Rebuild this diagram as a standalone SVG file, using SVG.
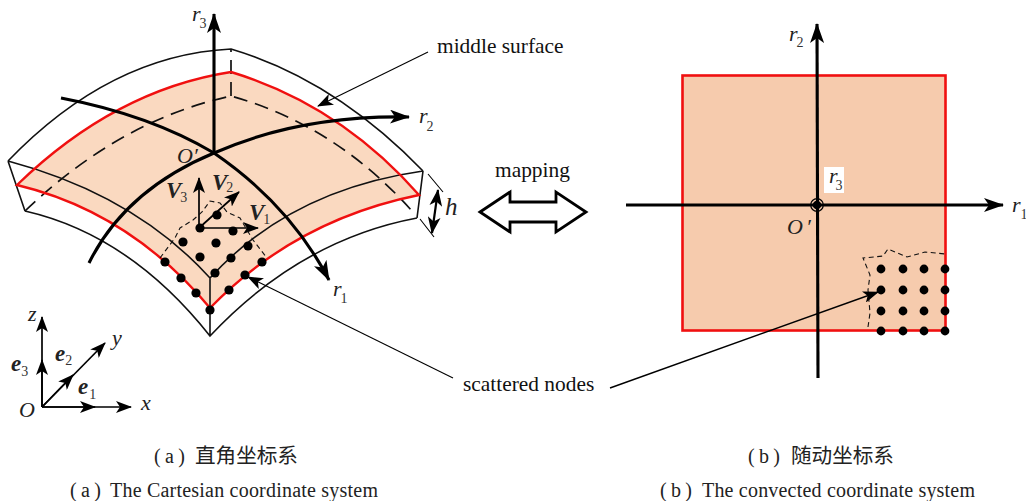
<svg xmlns="http://www.w3.org/2000/svg" width="1026" height="501" viewBox="0 0 1026 501">
<style>
.e{fill:none;stroke:#111;stroke-width:1.6}
.r{fill:none;stroke:#f01010;stroke-width:2.4}
.d{fill:none;stroke:#111;stroke-width:1.7;stroke-dasharray:14 8}
.fd{fill:none;stroke:#111;stroke-width:1.1;stroke-dasharray:5 3.5}
.a{fill:none;stroke:#000;stroke-width:3.1}
.v{fill:none;stroke:#000;stroke-width:1.7}
.l{fill:none;stroke:#000;stroke-width:1.1}
.t{font-family:"Liberation Serif",serif;font-size:21.4px;fill:#111}
.i{font-family:"Liberation Serif",serif;font-size:22px;font-style:italic;fill:#222}
.b{font-family:"Liberation Serif",serif;font-size:23px;font-style:italic;font-weight:bold;fill:#222}
.s{font-size:14px;font-style:normal;font-weight:normal;fill:#333}
.c{font-family:"Liberation Serif","Noto Sans CJK SC",serif;font-size:20.6px;fill:#222}
.n{font-family:"Liberation Serif",serif;font-size:20px;fill:#222}
</style>
<defs>
<marker id="big" viewBox="0 0 20 14" refX="19" refY="7" markerWidth="20" markerHeight="14" markerUnits="userSpaceOnUse" orient="auto"><path d="M0 0L20 7L0 14L5 7Z" fill="#000"/></marker>
<marker id="mid" viewBox="0 0 16 12" refX="15" refY="6" markerWidth="16" markerHeight="12" markerUnits="userSpaceOnUse" orient="auto"><path d="M0 0L16 6L0 12L4 6Z" fill="#000"/></marker>
<marker id="both" viewBox="0 0 16 12" refX="15" refY="6" markerWidth="17" markerHeight="13" markerUnits="userSpaceOnUse" orient="auto-start-reverse"><path d="M0 0L16 6L0 12L4 6Z" fill="#000"/></marker>
</defs>
<rect width="1026" height="501" fill="#fff"/>
<g id="shell">
<path d="M17 185Q115 90 231 72Q340 105 419 195Q295 220 210 308Q130 212 17 185Z" fill="#fad9c0"/>
<path class="e" d="M8 161Q110 55 231 49Q335 80 423 171M8 161Q135 195 210 278Q290 190 423 171M25 211Q130 235 210 336Q300 240 417 218M8 161L25 211M423 171L417 218M210 278V336"/>
<path class="d" d="M25 211Q120 120 231 96Q335 125 412 211M231 96V49"/>
<path class="r" d="M17 185Q115 90 231 72Q340 105 419 195Q295 220 210 308Q130 212 17 185Z"/>
<path class="l" d="M428 174L443 192M420 219L434 237"/>
</g>
<g id="plane">
<rect x="682.5" y="75.5" width="263" height="255" fill="#f6cbad" stroke="#f01010" stroke-width="2.6"/>
<path class="fd" d="M868 327L870 313L868 290L870 275L863 258L883 256L888 249L907 257L925 252L945 254"/>
<rect x="824" y="167" width="20" height="26" fill="#fff"/>
<circle cx="817" cy="205" r="6.3" fill="none" stroke="#000" stroke-width="1.2"/><circle cx="817" cy="205" r="4.3" fill="#000"/>
</g>
<g id="connectors">
<path class="a" d="M214 153V14" marker-end="url(#big)"/>
<path class="a" d="M89 263Q125 190 214 153Q300 115 409 117" marker-end="url(#big)"/>
<path class="a" d="M61 98Q150 115 214 153Q290 205 329 280" marker-end="url(#big)"/>
<path class="a" d="M626 205H1003" marker-end="url(#big)"/>
<path class="a" d="M818 378L817 24" marker-end="url(#big)"/>
<path class="v" d="M199 228V178" marker-end="url(#mid)"/>
<path class="v" d="M199 228L239 192" marker-end="url(#mid)"/>
<path class="v" d="M199 228H258" marker-end="url(#mid)"/>
<path class="fd" d="M160 258L175 238L180 228L193 220L202 212L210 201L220 203L227 212L240 218L247 230L253 240L267 258"/>
<path class="v" d="M438 190L432 233" style="stroke-width:2.2" marker-start="url(#both)" marker-end="url(#both)"/>
<path class="l" d="M428 52L318 106" marker-end="url(#mid)"/>
<path class="l" d="M453 378L248 277" marker-end="url(#mid)"/>
<path class="l" d="M610 388L878 292" style="stroke-width:1.4" marker-end="url(#mid)"/>
<path class="v" d="M42 407V317" marker-end="url(#mid)"/>
<path class="v" d="M42 407V360" marker-end="url(#mid)"/>
<path class="v" d="M42 407L105 343" marker-end="url(#mid)"/>
<path class="v" d="M42 407L73 375" marker-end="url(#mid)"/>
<path class="v" d="M42 407H131" marker-end="url(#mid)"/>
<path class="v" d="M42 407H95" marker-end="url(#mid)"/>
</g>
<g id="nodes-left" fill="#000">
<circle cx="200" cy="228" r="4.6"/><circle cx="217" cy="215" r="4.6"/><circle cx="233" cy="231" r="4.6"/><circle cx="183" cy="242" r="4.6"/><circle cx="216" cy="243" r="4.6"/><circle cx="248" cy="246" r="4.6"/><circle cx="200" cy="257" r="4.6"/><circle cx="231" cy="258" r="4.6"/><circle cx="262" cy="262" r="4.6"/><circle cx="165" cy="262" r="4.6"/><circle cx="215" cy="273" r="4.6"/><circle cx="245" cy="275" r="4.6"/><circle cx="181" cy="278" r="4.6"/><circle cx="229" cy="290" r="4.6"/><circle cx="196" cy="293" r="4.6"/><circle cx="210" cy="310" r="4.6"/>
</g>
<g id="nodes-right" fill="#000">
<circle cx="881" cy="269" r="4.4"/><circle cx="903" cy="269" r="4.4"/><circle cx="924" cy="269" r="4.4"/><circle cx="945" cy="269" r="4.4"/>
<circle cx="881" cy="290" r="4.4"/><circle cx="903" cy="290" r="4.4"/><circle cx="924" cy="290" r="4.4"/><circle cx="945" cy="290" r="4.4"/>
<circle cx="881" cy="311" r="4.4"/><circle cx="903" cy="311" r="4.4"/><circle cx="924" cy="311" r="4.4"/><circle cx="945" cy="311" r="4.4"/>
<circle cx="881" cy="331" r="4.4"/><circle cx="903" cy="331" r="4.4"/><circle cx="924" cy="331" r="4.4"/><circle cx="945" cy="331" r="4.4"/>
</g>
<g id="mapping"><path d="M480 212L510 192V202H556V192L586 212L556 232V222H510V232Z" fill="#fff" stroke="#000" stroke-width="2.8"/></g>
<g id="labels">
<text class="i" x="192" y="21">r<tspan class="s" dx="-1" dy="7">3</tspan></text>
<text class="i" x="419" y="123">r<tspan class="s" dx="-1" dy="8">2</tspan></text>
<text class="i" x="333" y="296">r<tspan class="s" dx="-1" dy="7">1</tspan></text>
<text class="i" x="177" y="163">O′</text>
<text class="b" x="166" y="198">V<tspan class="s" dx="-1" dy="4">3</tspan></text>
<text class="b" x="212" y="190">V<tspan class="s" dx="-1" dy="2">2</tspan></text>
<text class="b" x="249" y="220">V<tspan class="s" dx="-1" dy="4">1</tspan></text>
<text class="i" x="445" y="215" style="font-size:25px">h</text>
<text class="t" x="437" y="53">middle surface</text>
<text class="t" x="495" y="177">mapping</text>
<text class="t" x="463" y="391">scattered nodes</text>
<text class="i" x="789" y="41">r<tspan class="s" dx="-1" dy="6">2</tspan></text>
<text class="i" x="829" y="183">r<tspan class="s" dx="-2" dy="7">3</tspan></text>
<text class="i" x="1012" y="212">r<tspan class="s" dx="0" dy="7">1</tspan></text>
<text class="i" x="787" y="234">O<tspan dx="3">′</tspan></text>
<text class="i" x="28" y="321">z</text>
<text class="i" x="112" y="345">y</text>
<text class="i" x="141" y="410">x</text>
<text class="i" x="19" y="417">O</text>
<text class="b" x="11" y="371">e<tspan class="s" dy="5">3</tspan></text>
<text class="b" x="55" y="361">e<tspan class="s" dy="4">2</tspan></text>
<text class="b" x="78" y="394">e<tspan class="s" dx="1" dy="5">1</tspan></text>
<text class="n" x="154" y="463" textLength="31">(a)</text>
<text class="c" x="195" y="463">直角坐标系</text>
<text class="n" x="748" y="463" textLength="32">(b)</text>
<text class="c" x="791" y="463">随动坐标系</text>
<text class="n" x="70" y="497" textLength="31">(a)</text>
<text class="n" x="110" y="497" textLength="268">The Cartesian coordinate system</text>
<text class="n" x="660" y="497" textLength="32">(b)</text>
<text class="n" x="702" y="497" textLength="273">The convected coordinate system</text>
</g>
</svg>
